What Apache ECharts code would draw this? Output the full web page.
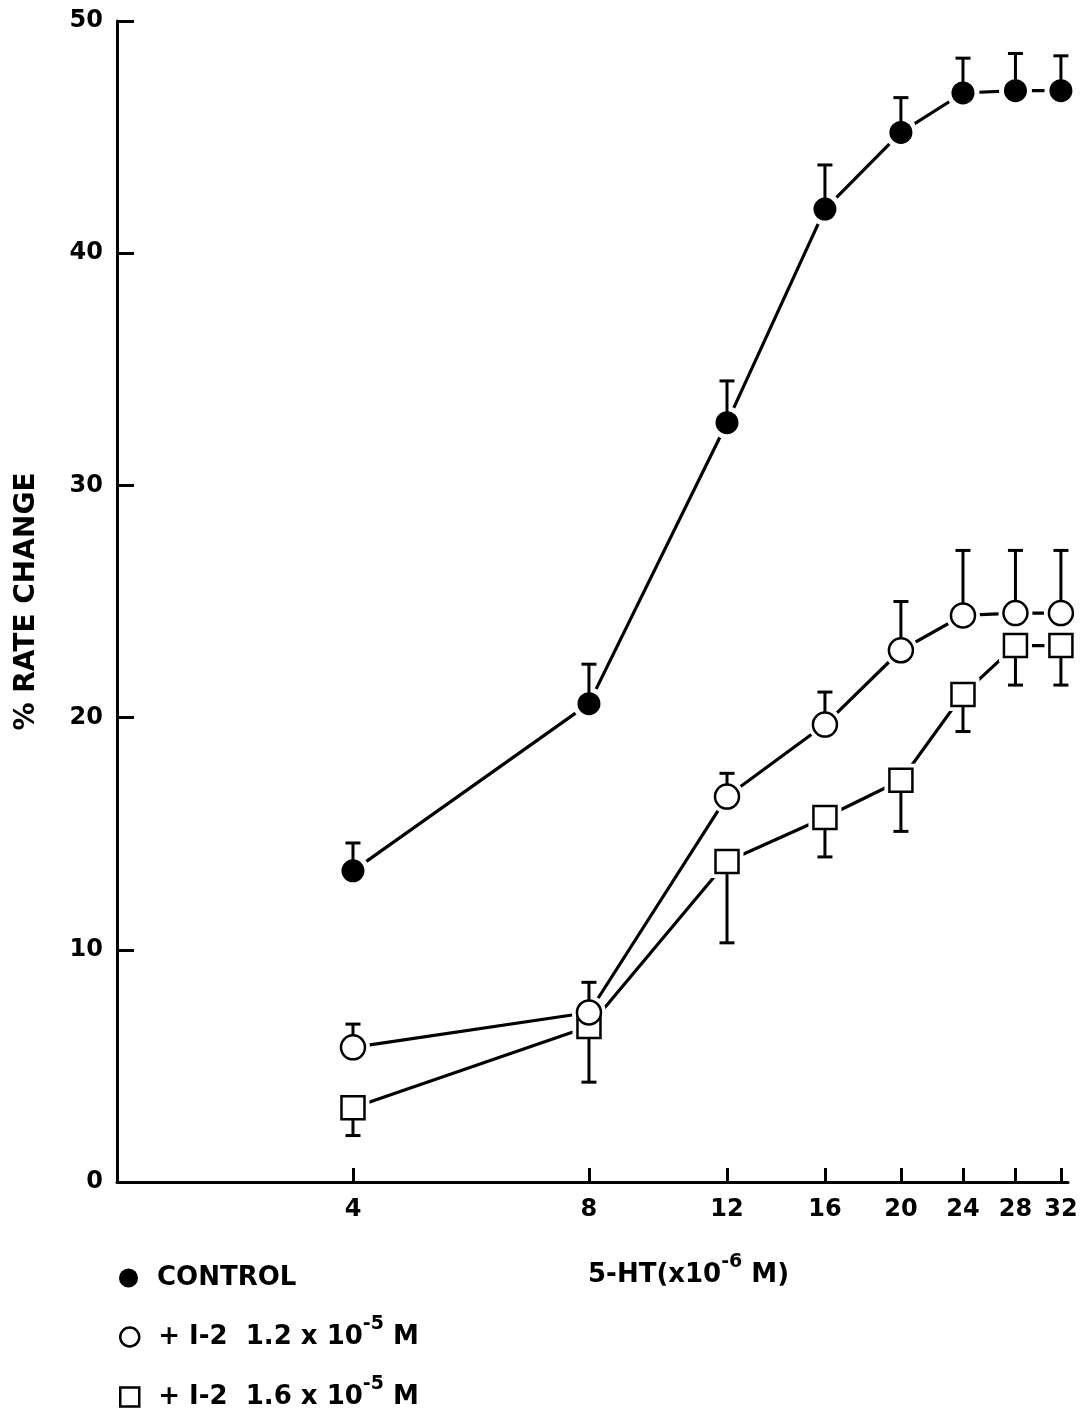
<!DOCTYPE html>
<html>
<head>
<meta charset="utf-8">
<script src="https://cdn.jsdelivr.net/npm/echarts@6/dist/echarts.min.js"></script>
<style>
html,body{margin:0;padding:0;background:#ffffff;}
#chart{width:1087px;height:1417px;}
</style>
</head>
<body>
<div id="chart"></div>
<script>
// ---- data ----
const concentrations = [4, 8, 12, 16, 20, 24, 28, 32];          // 5-HT (x10^-6 M)
const xTickLabels = ['4', '8', '12', '16', '20', '24', '28', '32'];
const yTickValues = [0, 10, 20, 30, 40, 50];

const controlMean = [13.4, 20.6, 32.7, 41.9, 45.2, 46.9, 47.0, 47.0];
const controlSem  = [1.2, 1.7, 1.8, 1.9, 1.5, 1.5, 1.6, 1.5];

const i2LowMean = [5.8, 7.3, 16.6, 19.7, 22.9, 24.4, 24.5, 24.5];   // + I-2 1.2x10^-5 M
const i2LowSem  = [1.0, 1.3, 1.0, 1.4, 2.1, 2.8, 2.7, 2.7];

const i2HighMean = [3.2, 6.7, 13.8, 15.7, 17.3, 21.0, 23.1, 23.1];  // + I-2 1.6x10^-5 M
const i2HighSem  = [1.2, 2.4, 3.5, 1.7, 2.2, 1.6, 1.7, 1.7];

const seriesNames = ['CONTROL', '+ I-2  1.2 x 10^-5 M', '+ I-2  1.6 x 10^-5 M'];
const xAxisTitle = '5-HT(x10^-6 M)';
const yAxisTitle = '% RATE CHANGE';

// ---- chart ----
const FONT = 'DejaVu Sans';
const lx = c => Math.log2(c);
const xTickPositions = concentrations.map(lx);

function points(mean) {
  return concentrations.map((c, i) => [lx(c), mean[i]]);
}
function errPoints(mean, sem, dir) {
  return concentrations.map((c, i) => [lx(c), mean[i], mean[i] + dir * sem[i]]);
}
function supRich(text, lead) {
  const parts = text.split('^');
  const first = lead || 't';
  if (parts.length === 1) return '{' + first + '|' + text + '}';
  const sup = parts[1].match(/^-?\d+/)[0];
  return '{' + first + '|' + parts[0] + '}{sup|' + sup + '}{t|' + parts[1].slice(sup.length) + '}';
}

const errRender = function (params, api) {
  const p0 = api.coord([api.value(0), api.value(1)]);
  const p1 = api.coord([api.value(0), api.value(2)]);
  const hw = 7.5;
  return {
    type: 'group',
    children: [
      { type: 'line', shape: { x1: p0[0], y1: p0[1], x2: p1[0], y2: p1[1] },
        style: { stroke: '#000', lineWidth: 3 } },
      { type: 'line', shape: { x1: p1[0] - hw, y1: p1[1], x2: p1[0] + hw, y2: p1[1] },
        style: { stroke: '#000', lineWidth: 3 } }
    ]
  };
};

const groups = [
  { name: seriesNames[0], mean: controlMean, sem: controlSem, dir: 1, symbol: 'circle', size: 23,
    style: { color: '#000', borderColor: '#000', borderWidth: 0, opacity: 1 }, z: 6 },
  { name: seriesNames[1], mean: i2LowMean, sem: i2LowSem, dir: 1, symbol: 'circle', size: 24,
    style: { color: '#fff', borderColor: '#000', borderWidth: 2.5, opacity: 1 }, z: 7 },
  { name: seriesNames[2], mean: i2HighMean, sem: i2HighSem, dir: -1, symbol: 'rect', size: 23,
    style: { color: '#fff', borderColor: '#000', borderWidth: 2.5, opacity: 1 }, z: 5 }
];

const series = [];
groups.forEach((g, gi) => {
  series.push({
    name: 'line' + gi, type: 'line', data: points(g.mean), showSymbol: false,
    lineStyle: { color: '#000', width: 3.2 }, z: 2, silent: true
  });
  series.push({
    name: 'halo' + gi, type: 'scatter', data: points(g.mean), symbol: g.symbol,
    symbolSize: g.size + 10, itemStyle: { color: '#fff', opacity: 1 }, z: 3, silent: true
  });
  series.push({
    name: 'err' + gi, type: 'custom', renderItem: errRender,
    data: errPoints(g.mean, g.sem, g.dir), encode: { x: 0, y: [1, 2] }, z: 4, silent: true
  });
  series.push({
    name: g.name, type: 'scatter', data: points(g.mean), symbol: g.symbol,
    symbolSize: g.size, itemStyle: g.style, z: g.z, silent: true
  });
});

const richText = {
  t: { fontFamily: FONT, fontWeight: 'bold', fontSize: 26, color: '#000', lineHeight: 44 },
  lead: { fontFamily: FONT, fontWeight: 'bold', fontSize: 26, color: '#000', lineHeight: 44, padding: [0, 0, 0, 14] },
  sup: { fontFamily: FONT, fontWeight: 'bold', fontSize: 19, color: '#000', lineHeight: 18, verticalAlign: 'top' }
};

const rowTops = [1265, 1315, 1375];
const legendIcons = ['circle', 'circle', 'rect'];
const legends = groups.map((g, i) => ({
  left: 119,
  top: rowTops[i],
  padding: 0,
  orient: 'vertical',
  selectedMode: false,
  itemWidth: 19,
  itemHeight: 19,
  data: [{ name: g.name, icon: legendIcons[i],
           itemStyle: { color: g.style.color, borderColor: '#000', borderWidth: g.style.borderWidth, opacity: 1 } }],
  formatter: n => supRich(n, 'lead'),
  textStyle: { rich: richText }
}));

const chart = echarts.init(document.getElementById('chart'), null, { renderer: 'canvas' });
chart.setOption({
  backgroundColor: '#ffffff',
  animation: false,
  grid: { left: 117, right: 19, top: 21, bottom: 235, containLabel: false, outerBoundsMode: 'none' },
  legend: legends,
  xAxis: {
    type: 'value',
    min: 1,
    max: 5.03,
    axisLine: { show: true, lineStyle: { color: '#000', width: 3 } },
    axisTick: { show: true, inside: true, length: 14, lineStyle: { color: '#000', width: 3 },
                customValues: xTickPositions },
    axisLabel: { show: true, customValues: xTickPositions, margin: 16,
                 formatter: v => xTickLabels[xTickPositions.findIndex(p => Math.abs(p - v) < 1e-6)] || '',
                 fontFamily: FONT, fontWeight: 'bold', fontSize: 24, color: '#000' },
    splitLine: { show: false }
  },
  yAxis: {
    type: 'value',
    min: yTickValues[0],
    max: yTickValues[yTickValues.length - 1],
    interval: 10,
    name: yAxisTitle,
    nameLocation: 'middle',
    nameRotate: 90,
    nameGap: 76,
    nameTextStyle: { fontFamily: FONT, fontWeight: 'bold', fontSize: 28, color: '#000' },
    axisLine: { show: true, lineStyle: { color: '#000', width: 3 } },
    axisTick: { show: true, inside: true, length: 17, lineStyle: { color: '#000', width: 3 } },
    axisLabel: { margin: 14, fontFamily: FONT, fontWeight: 'bold', fontSize: 24, color: '#000' },
    splitLine: { show: false }
  },
  graphic: [{
    type: 'text',
    left: 588,
    top: 1253,
    silent: true,
    style: { text: supRich(xAxisTitle), rich: richText }
  }],
  series: series
});
</script>
</body>
</html>
